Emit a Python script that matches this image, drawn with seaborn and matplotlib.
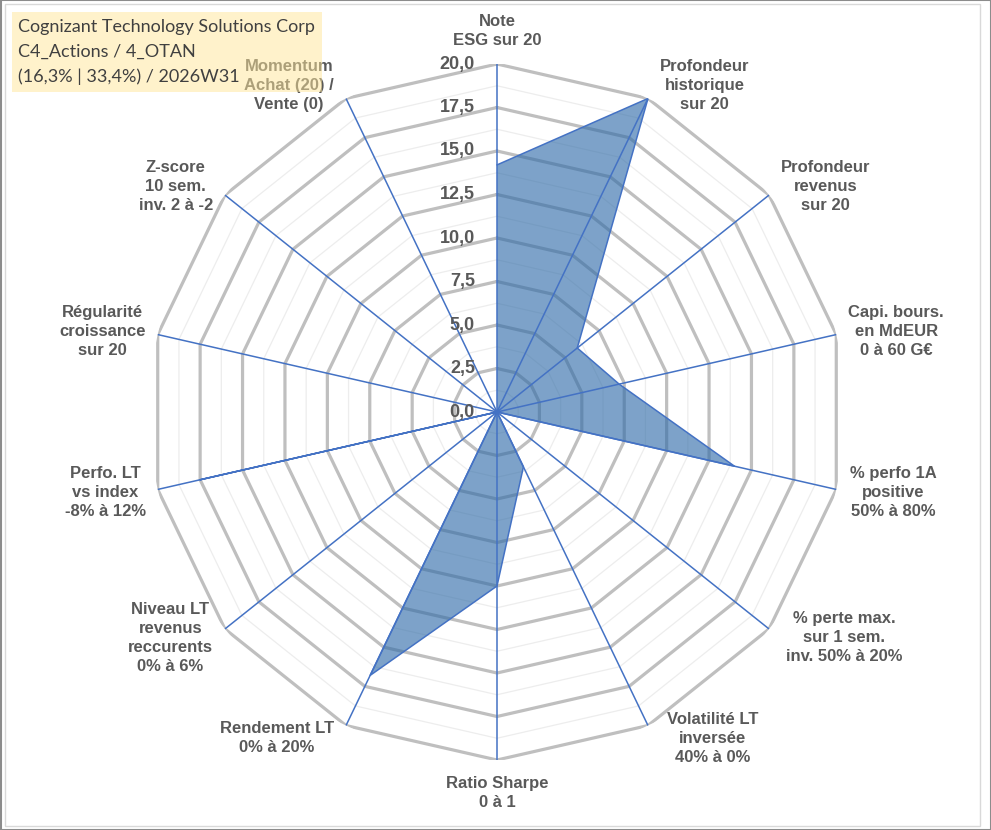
import numpy as np
import pandas as pd
import seaborn as sns
import matplotlib.pyplot as plt
from matplotlib.patches import Rectangle

criteria = [
    "Note\nESG sur 20",
    "Profondeur\nhistorique\nsur 20",
    "Profondeur\nrevenus\nsur 20",
    "Capi. bours.\nen MdEUR\n0 à 60 G€",
    "% perfo 1A\npositive\n50% à 80%",
    "% perte max.\nsur 1 sem.\ninv. 50% à 20%",
    "Volatilité LT\ninversée\n40% à 0%",
    "Ratio Sharpe\n0 à 1",
    "Rendement LT\n0% à 20%",
    "Niveau LT\nrevenus\nreccurents\n0% à 6%",
    "Perfo. LT\nvs index\n-8% à 12%",
    "Régularité\ncroissance\nsur 20",
    "Z-score\n10 sem.\ninv. 2 à -2",
    "Momentum\nAchat (20) /\nVente (0)",
]
scores = [14.2, 20.0, 5.9, 7.2, 14.0, 0.0, 3.5, 10.0, 16.8, 0.0, 17.5, 0.0, 0.0, 0.0]
ring_ticks = [0.0, 2.5, 5.0, 7.5, 10.0, 12.5, 15.0, 17.5, 20.0]
ring_labels = ["0,0", "2,5", "5,0", "7,5", "10,0", "12,5", "15,0", "17,5", "20,0"]
title_lines = [
    "Cognizant Technology Solutions Corp",
    "C4_Actions / 4_OTAN",
    "(16,3% | 33,4%) / 2026W31",
]

W, H = 991, 830
BLUE = "#4472C4"
GREY_TXT = "#595959"

df = pd.DataFrame({"criterion": criteria, "score": scores})
df["theta"] = np.linspace(0, 2 * np.pi, len(df), endpoint=False)
closed = pd.concat([df, df.iloc[:1]], ignore_index=True)

sns.set_theme(style="white")
plt.rcParams["font.family"] = ["Liberation Sans", "DejaVu Sans"]

fig = plt.figure(figsize=(W / 100, H / 100), dpi=100)
fig.patch.set_facecolor("white")

cx, cy, R = 497, 412, 348
ax = fig.add_axes([(cx - R) / W, (H - cy - R) / H, 2 * R / W, 2 * R / H], projection="polar")
ax.set_theta_zero_location("N")
ax.set_theta_direction(-1)
ax.set_ylim(0, 20)
ax.axis("off")

# polygon grid: thin minor rings between thick major rings
for v in np.arange(1.25, 20, 2.5):
    ax.plot(closed["theta"], [v] * len(closed), color="#EDEDED", lw=0.9, zorder=1)
for v in ring_ticks[1:]:
    ax.plot(closed["theta"], [v] * len(closed), color="#BFBFBF", lw=2.3, zorder=2)

# data area
ax.fill(closed["theta"], closed["score"], color="#2E6AA8", alpha=0.62, lw=0, zorder=3)
sns.lineplot(x=closed["theta"], y=closed["score"], sort=False, color=BLUE, lw=1.1,
             ax=ax, zorder=5)

# spokes
for th in df["theta"]:
    ax.plot([th, th], [0, 20], color=BLUE, lw=1.1, zorder=4)
ax.set_ylim(0, 20)

# radial tick labels on the top spoke
for v, lab in zip(ring_ticks, ring_labels):
    ax.annotate(lab, xy=(0, v), xytext=(-22, 0), textcoords="offset pixels",
                ha="right", va="center", fontsize=13, fontweight="bold",
                color=GREY_TXT, annotation_clip=False, zorder=6)

# category labels around the radar
for lab, th in zip(df["criterion"], df["theta"]):
    s, c = np.sin(th), np.cos(th)
    if abs(s) < 1e-6:
        ha, va = "center", ("bottom" if c > 0 else "top")
        off = (0, 16 * np.sign(c))
    else:
        ha = "left" if s > 0 else "right"
        va = "center"
        dx = 12 + 8 * max(0, -c) * (s > 0)
        off = (np.sign(s) * dx, 14 * c)
    ax.annotate(lab, xy=(th, 20), xytext=off, textcoords="offset pixels",
                ha=ha, va=va, multialignment="center", fontsize=12,
                fontweight="bold", color=GREY_TXT, linespacing=1.33,
                annotation_clip=False, zorder=6)

# translucent title box laid over the chart
fig.add_artist(Rectangle((12 / W, 1 - 92 / H), 310 / W, 80 / H, transform=fig.transFigure,
                         facecolor="#FFE699", alpha=0.5, edgecolor="none", zorder=10))
for i, line in enumerate(title_lines):
    fig.text(18 / W, 1 - (27 + 25 * i) / H, line, ha="left", va="center",
             fontsize=13, color="#404040", family=["Lato", "DejaVu Sans"], zorder=11)

# chart frame
fig.add_artist(Rectangle((5 / W, 4 / H), 975 / W, 822 / H, transform=fig.transFigure,
                         fill=False, edgecolor="#D9D9D9", lw=1, zorder=12))
fig.add_artist(Rectangle((0.5 / W, 0.5 / H), (W - 1) / W, (H - 1) / H, transform=fig.transFigure,
                         fill=False, edgecolor="#8C8C8C", lw=1.5, zorder=12))

fig.savefig("out.png", dpi=100, facecolor="white")
